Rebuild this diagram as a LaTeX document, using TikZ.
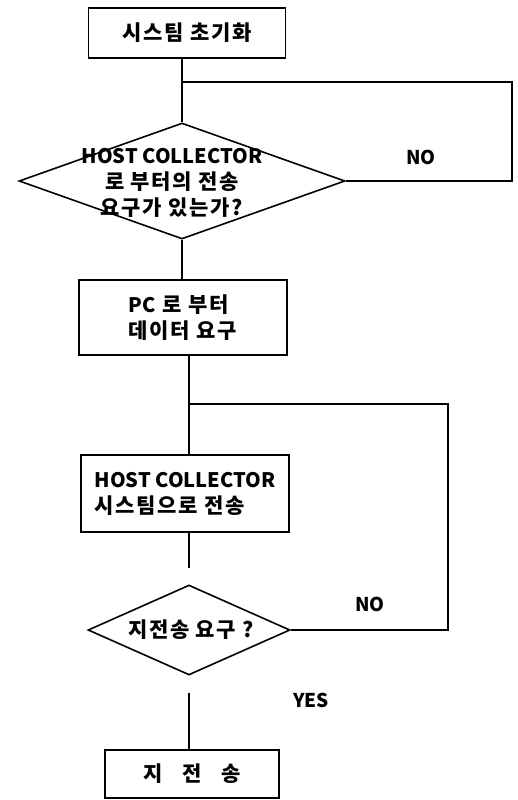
\documentclass[tikz,border=0pt]{standalone}
\usepackage{fontspec}
\newfontfamily\krfont{Noto Sans CJK KR}[LetterSpace=8]
\newfontfamily\latfont{Noto Sans CJK KR}
\newcommand{\lat}[1]{{\latfont\fontsize{20pt}{26pt}\selectfont #1}}
\usetikzlibrary{shapes.geometric}

\tikzset{
    fc box/.style={draw=black, line width=1.6pt, inner sep=0pt,
                   font=\krfont\bfseries\fontsize{21pt}{26pt}\selectfont},
    fc decision/.style={diamond, draw=black, line width=1.6pt, inner sep=0pt},
    fc text/.style={inner sep=0pt,
                    font=\krfont\bfseries\fontsize{21pt}{26pt}\selectfont},
    fc line/.style={line width=1.6pt},
    fc answer/.style={inner sep=0pt,
                      font=\latfont\bfseries\fontsize{19pt}{22pt}\selectfont},
}

\begin{document}
\begin{tikzpicture}[x=1pt, y=-1pt]
    \useasboundingbox (0,0) rectangle (517,800);
    % Boxes
    \node[fc box, minimum width=197pt, minimum height=50pt]
          (init) at (187,33) {시스팀 초기화};
    \node[fc box, minimum width=208pt, minimum height=75pt, align=left]
          (pcreq) at (183,317.5) {\lat{PC} 로 부터\\데이터 요구};
    \node[fc box, minimum width=208pt, minimum height=77pt, align=left]
          (send) at (185,493.5) {\lat{HOST COLLECTOR}\\시스팀으로 전송};
    \node[fc box, minimum width=174pt, minimum height=48pt]
          (resend) at (192,774) {지\hspace{20pt}전\hspace{20pt}송};
    % Decisions
    \node[fc decision, minimum width=326pt, minimum height=116pt]
          (ask1) at (182,181) {};
    \node[fc text, align=center] (ask1-text) at (172,183)
          {\lat{HOST COLLECTOR}\\로 부터의 전송\\요구가 있는가?};
    \node[fc decision, minimum width=202pt, minimum height=90pt]
          (ask2) at (189,630) {};
    \node[fc text] (ask2-text) at (191,630) {지전송 요구 ?};
    % Loop points
    \coordinate (j1) at (182,82);
    \coordinate (r1) at (512,82);
    \coordinate (j2) at (189,404);
    \coordinate (r2) at (448,404);
    % Main line
    \draw[fc line] (init.south -| ask1.north) -- (ask1.north);
    \draw[fc line] (ask1.south) -- (ask1.south |- pcreq.north);
    \draw[fc line] (pcreq.south -| ask2.north) -- (send.north -| ask2.north);
    \draw[fc line, shorten >=16pt] (send.south -| ask2.north) -- (ask2.north);
    \draw[fc line, shorten <=17pt] (ask2.south) -- (ask2.south |- resend.north);
    % NO loops
    \draw[fc line] (ask1.east) -| (r1) -- (j1);
    \draw[fc line] (ask2.east) -| (r2) -- (j2);
    % Answers
    \node[fc answer] (no1) at (421,157) {NO};
    \node[fc answer] (no2) at (370,604) {NO};
    \node[fc answer] (yes) at (311,700) {YES};
\end{tikzpicture}
\end{document}
